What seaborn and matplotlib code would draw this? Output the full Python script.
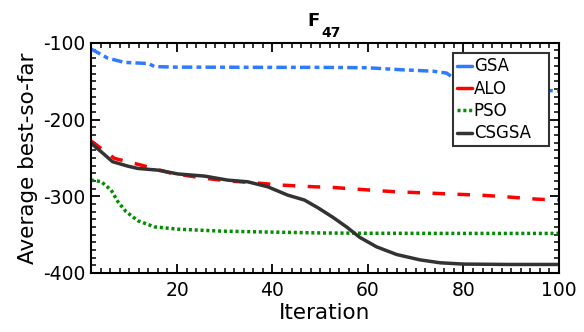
import numpy as np
import pandas as pd
import matplotlib
matplotlib.use("Agg")
import matplotlib.pyplot as plt
import seaborn as sns
from matplotlib.ticker import MultipleLocator

# ======================
# 1. 数据
# ======================
gsa_iter = [2, 5.5, 9, 14, 15.3, 20, 30, 40, 50, 60, 66.7, 73.7, 76.5, 77.5, 80, 85, 90, 95, 100]
gsa_val = [-108, -120, -125.5, -127, -131, -131.7, -131.8, -132, -132, -132.5, -135, -137, -139.5, -144,
           -150, -155, -158, -161, -163]

alo_iter = [2, 6.9, 12.5, 18.8, 25, 30.6, 36.2, 41.8, 48.8, 52.7, 60.4, 66, 71.6, 77.9, 83.5, 89, 95.3, 100]
alo_val = [-228, -250.7, -259.5, -270, -276, -280, -282.5, -285.5, -287.7, -288.6, -292, -294.3, -295.6,
           -297.3, -298.6, -300.8, -303.8, -305]

pso_iter = [2, 4.1, 6.2, 7.6, 9.3, 11.8, 15.3, 20.2, 29.2, 39.7, 51.2, 60, 80, 100]
pso_val = [-279, -281, -292, -307, -320, -332, -340, -343, -345.5, -346.8, -348, -348.3, -348.5, -348.5]

csgsa_iter = [2, 4.1, 6.5, 9.7, 11.8, 16, 20.2, 25.8, 30.6, 34.8, 39, 43.2, 46.7, 49.5, 52.7, 55.5,
              58.3, 61.8, 66, 70.9, 75.1, 80, 90, 100]
csgsa_val = [-231, -242, -255, -260.8, -263.8, -266, -271, -273.8, -279, -281.2, -287.7, -298.6, -305,
             -315, -327.7, -340, -353.7, -366, -376, -383, -386.8, -388.5, -389, -389]

# ======================
# 2. 样式
# ======================
sns.set_style("ticks")
plt.rcParams['font.family'] = ['DejaVu Sans']
plt.rcParams['axes.unicode_minus'] = False
plt.rcParams['lines.scale_dashes'] = False
plt.rcParams['xtick.direction'] = 'in'
plt.rcParams['ytick.direction'] = 'in'
plt.rcParams['xtick.top'] = True
plt.rcParams['ytick.right'] = True
for k in ['text.color', 'axes.labelcolor', 'xtick.color', 'ytick.color']:
    plt.rcParams[k] = 'black'

fig = plt.figure(figsize=(5.84, 3.32), dpi=100)
ax = fig.add_axes([0.156, 0.178, 0.801, 0.693])

series = [
    ("GSA", gsa_iter, gsa_val, "#2F7BFF", (0, (7.5, 3, 3.5, 3))),
    ("ALO", alo_iter, alo_val, "#FF0000", (0, (9, 9))),
    ("PSO", pso_iter, pso_val, "#008F00", (0, (2.2, 2.0))),
    ("CSGSA", csgsa_iter, csgsa_val, "#333333", "-"),
]

for name, xs, ys, color, ls in series:
    sns.lineplot(x=xs, y=ys, ax=ax, color=color, linestyle=ls, linewidth=2.5,
                 label=name, sort=False, estimator=None)

# ======================
# 3. 坐标轴
# ======================
ax.set_xlim(2, 100)
ax.set_ylim(-400, -100)
ax.xaxis.set_major_locator(MultipleLocator(20))
ax.xaxis.set_minor_locator(MultipleLocator(2))
ax.yaxis.set_major_locator(MultipleLocator(100))
ax.yaxis.set_minor_locator(MultipleLocator(10))
ax.tick_params(which='major', length=6.5, width=1.3, labelsize=13.5)
ax.tick_params(axis='x', which='major', pad=6)
ax.tick_params(axis='y', which='major', pad=4)
ax.tick_params(which='minor', length=3.5, width=1.1)
for sp in ax.spines.values():
    sp.set_linewidth(1.5)
    sp.set_color('black')

ax.set_xlabel("Iteration", fontsize=15.5, labelpad=2)
ax.set_ylabel("Average best-so-far", fontsize=15.5, labelpad=4)

# 标题 F_47（下标单独放置）
fig.text(0.5269, 0.9217, "F", fontsize=13, fontweight='bold', ha='left', va='baseline')
fig.text(0.5508, 0.8895, "47", fontsize=10, fontweight='bold', ha='left', va='baseline')

leg = ax.legend(loc='upper left', bbox_to_anchor=(0.774, 0.5, 0.204, 0.454), mode='expand',
                borderaxespad=0, fontsize=12, handlelength=0.86, handletextpad=0.14,
                labelspacing=0.26, borderpad=0.24, fancybox=False, framealpha=1,
                edgecolor='#333333')
leg.get_frame().set_linewidth(1.5)
for h, (name, _, _, _, ls) in zip(leg.get_lines(), series):
    h.set_linestyle((0, (2.2, 2.0)) if name == "PSO" else '-')
    h.set_linewidth(2.5)

plt.savefig("out.png", dpi=100)
plt.close()
